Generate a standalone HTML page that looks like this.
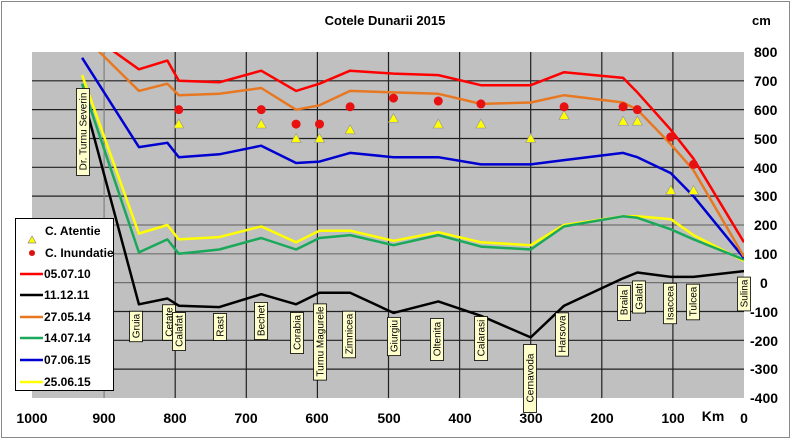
<!DOCTYPE html>
<html><head><meta charset="utf-8"><style>
body{margin:0;background:#fff}
svg{display:block;font-family:"Liberation Sans",Arial,sans-serif}
.st{font-size:10px}
.ax{font-size:14px;font-weight:bold}
</style></head><body>
<svg id="s" width="791" height="439" viewBox="0 0 791 439" xmlns="http://www.w3.org/2000/svg">
<rect x="1.5" y="1.5" width="788" height="436" fill="#fff" stroke="#888"/>
<rect x="32" y="52" width="712" height="346" fill="#c0c0c0"/>
<g id="grid"></g>
<g id="lines"></g>
<g id="marks"></g>
<text x="385" y="25" text-anchor="middle" font-size="13" font-weight="bold">Cotele Dunarii 2015</text>
<text x="752" y="25" font-size="13" font-weight="bold">cm</text>
<g class="ax" text-anchor="start">
<text x="754" y="57">800</text><text x="754" y="86">700</text><text x="754" y="115">600</text><text x="754" y="144">500</text><text x="754" y="173">400</text><text x="754" y="201">300</text><text x="754" y="230">200</text><text x="754" y="259">100</text><text x="760" y="288">0</text><text x="750" y="317">-100</text><text x="750" y="346">-200</text><text x="750" y="374">-300</text><text x="750" y="403">-400</text>
</g>
<g class="ax" text-anchor="middle">
<text x="32" y="423">1000</text><text x="104" y="423">900</text><text x="175" y="423">800</text><text x="246" y="423">700</text><text x="317" y="423">600</text><text x="389" y="423">500</text><text x="460" y="423">400</text><text x="531" y="423">300</text><text x="602" y="423">200</text><text x="673" y="423">100</text><text x="713" y="421">Km</text><text x="744" y="423">0</text>
</g>
<g id="labels" class="st"></g>
<g>
<rect x="15.5" y="218.5" width="98" height="172" fill="#fff" stroke="#000"/>
<polygon points="32,236 28,243 36,243" fill="#ffff00" stroke="#888" stroke-width="0.7"/>
<circle cx="32" cy="253" r="3" fill="#e01010"/>
<g stroke-width="2.5">
<line x1="20" y1="274" x2="43" y2="274" stroke="#ff0000"/>
<line x1="20" y1="295" x2="43" y2="295" stroke="#000"/>
<line x1="20" y1="317" x2="43" y2="317" stroke="#e87722"/>
<line x1="20" y1="338" x2="43" y2="338" stroke="#1aa85a"/>
<line x1="20" y1="360" x2="43" y2="360" stroke="#0000d0"/>
<line x1="20" y1="382" x2="43" y2="382" stroke="#ffff00"/>
</g>
<g font-size="12" font-weight="bold">
<text x="45" y="235">C. Atentie</text>
<text x="45" y="257">C. Inundatie</text>
<text x="44" y="278">05.07.10</text>
<text x="44" y="299">11.12.11</text>
<text x="44" y="321">27.05.14</text>
<text x="44" y="342">14.07.14</text>
<text x="44" y="364">07.06.15</text>
<text x="44" y="386">25.06.15</text>
</g>
</g>
</svg>
<script>
const X=k=>744-k*0.711, Y=v=>52+(800-v)*0.2883;
const ns="http://www.w3.org/2000/svg";
function el(p,t,a,txt){const e=document.createElementNS(ns,t);for(const k in a)e.setAttribute(k,a[k]);if(txt)e.textContent=txt;(typeof p=="string"?document.getElementById(p):p).appendChild(e);return e;}
for(let v=700;v>=-300;v-=100){const c=(v==200||v==100||v==0)?"#707070":"#202020";el("grid","line",{x1:32,x2:744,y1:Y(v),y2:Y(v),stroke:c,"stroke-width":1.2});}
for(let k=900;k>=100;k-=100){const c=k==900?"#808080":"#202020";el("grid","line",{x1:X(k),x2:X(k),y1:52,y2:398,stroke:c,"stroke-width":1.2});}
const km=[931,851,811,795,738,679,630,597,554,493,430,370,300,253,170,150,103,71,0];
const S=[
["#ffff00",[720,170,200,150,158,195,140,180,180,145,175,140,130,200,230,230,220,165,75]],
["#1aa85a",[690,105,150,100,115,155,115,155,165,130,165,125,115,195,230,225,185,150,80]],
["#000000",[660,-75,-55,-80,-85,-40,-75,-35,-35,-105,-65,-115,-190,-80,15,35,20,20,40]],
["#0000d0",[780,470,485,435,445,475,415,420,450,435,435,410,410,425,450,435,380,300,85]],
["#e87722",[860,665,690,650,655,675,600,615,665,660,655,620,625,650,625,600,480,390,90]],
["#ff0000",[880,740,770,700,695,735,665,690,735,725,720,685,685,730,710,660,530,430,140]]];
const cp=el("lines","clipPath",{id:"cp"});el(cp,"rect",{x:32,y:52,width:712,height:346});
for(const [c,d] of S){el("lines","polyline",{points:d.map((v,i)=>X(km[i]).toFixed(1)+","+Y(v).toFixed(1)).join(" "),fill:"none",stroke:c,"stroke-width":2.5,"stroke-linejoin":"round","clip-path":"url(#cp)"});}
const tri=[[795,550],[679,550],[630,500],[597,500],[554,530],[493,570],[430,550],[370,550],[300,500],[253,580],[170,560],[150,560],[103,320],[71,320]];
for(const [k,v] of tri){const x=X(k),y=Y(v);el("marks","polygon",{points:`${x},${y-5} ${x-5},${y+4} ${x+5},${y+4}`,fill:"#ffff00",stroke:"#999","stroke-width":0.7});}
const dot=[[795,600],[679,600],[630,550],[597,550],[554,610],[493,640],[430,630],[370,620],[253,610],[170,610],[150,600],[103,505],[71,410]];
for(const [k,v] of dot)el("marks","circle",{cx:X(k),cy:Y(v),r:4.5,fill:"#e81010"});
const L=[["Dr. Turnu Severin",76,88,87],["Gruia",129,312,28],["Cetate",162,306,32],["Calafat",172,312,38],["Rast",213,313,27],["Bechet",254,304,33],["Corabia",290,313,39],["Turnu Magurele",313,305,73],["Zimnicea",342,313,42],["Giurgiu",387,317,38],["Oltenita",430,318,42],["Calarasi",474,316,44],["Cernavoda",523,344,68],["Harsova",555,313,42],["Braila",617,285,35],["Galati",632,281,31],["Isaccea",663,283,40],["Tulcea",686,285,33],["Sulina",737,277,33]];
for(const [t,x,y,h] of L){const r=el("labels","rect",{x:x+0.5,y:y+0.5,width:13,height:h,fill:"#ffffcc",stroke:"#000","stroke-width":0.8});
const tx=el("labels","text",{x:0,y:0,"text-anchor":"middle",transform:`translate(${x+10.5},${y+h/2}) rotate(-90)`},t);
const w=tx.getComputedTextLength();if(w+6>h){const nh=w+6;r.setAttribute("height",nh);r.setAttribute("y",y+0.5+(h-nh)/2);}}
</script>
</body></html>
